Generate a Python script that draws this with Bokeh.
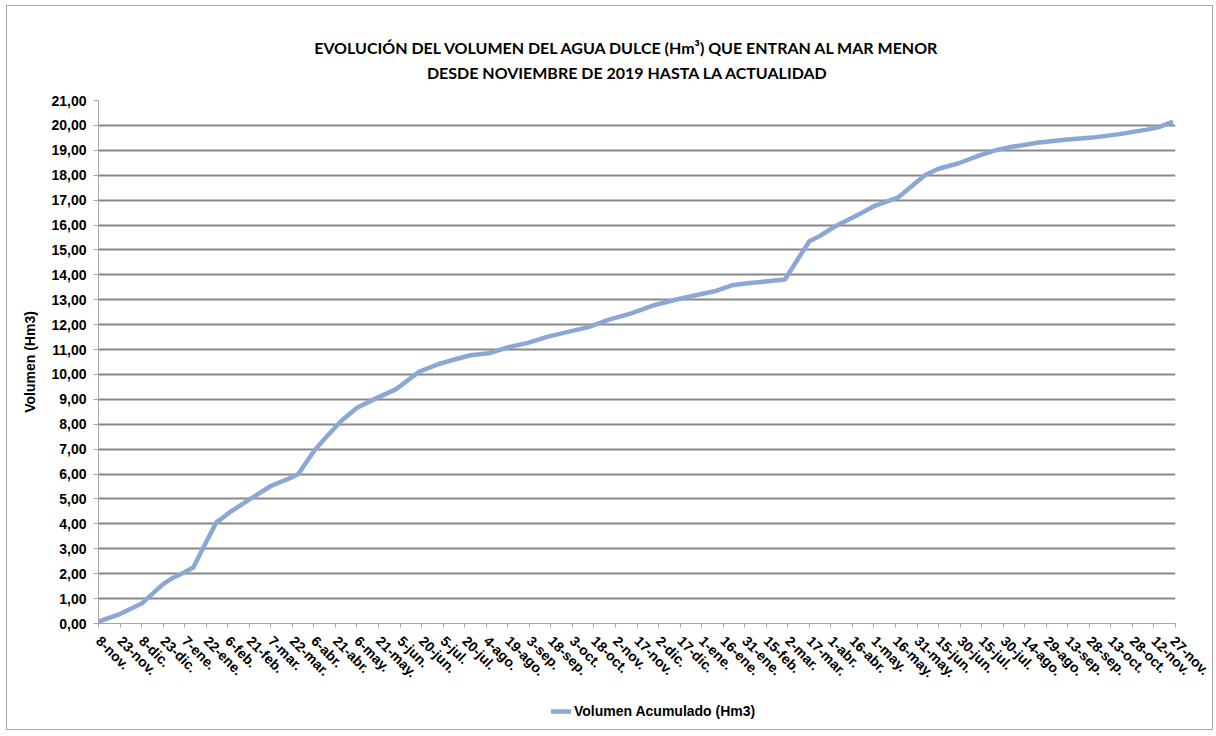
import pandas as pd
from bokeh.plotting import figure
from bokeh.layouts import column
from bokeh.models import Range1d, FixedTicker, Label, Legend, LegendItem, ColumnDataSource
from bokeh.embed import file_html
from bokeh.resources import INLINE

# ---------------- data ----------------
title_line1 = "EVOLUCIÓN DEL VOLUMEN DEL AGUA DULCE (Hm³) QUE ENTRAN AL MAR MENOR"
title_line2 = "DESDE NOVIEMBRE DE 2019 HASTA LA ACTUALIDAD"
y_title = "Volumen (Hm3)"
series_name = "Volumen Acumulado (Hm3)"

tick_dates = [
    "2019-11-08", "2019-11-23", "2019-12-08", "2019-12-23", "2020-01-07", "2020-01-22",
    "2020-02-06", "2020-02-21", "2020-03-07", "2020-03-22", "2020-04-06", "2020-04-21",
    "2020-05-06", "2020-05-21", "2020-06-05", "2020-06-20", "2020-07-05", "2020-07-20",
    "2020-08-04", "2020-08-19", "2020-09-03", "2020-09-18", "2020-10-03", "2020-10-18",
    "2020-11-02", "2020-11-17", "2020-12-02", "2020-12-17", "2021-01-01", "2021-01-16",
    "2021-01-31", "2021-02-15", "2021-03-02", "2021-03-17", "2021-04-01", "2021-04-16",
    "2021-05-01", "2021-05-16", "2021-05-31", "2021-06-15", "2021-06-30", "2021-07-15",
    "2021-07-30", "2021-08-14", "2021-08-29", "2021-09-13", "2021-09-28", "2021-10-13",
    "2021-10-28", "2021-11-12", "2021-11-27",
]
tick_labels = [
    "8-nov.", "23-nov.", "8-dic.", "23-dic.", "7-ene.", "22-ene.",
    "6-feb.", "21-feb.", "7-mar.", "22-mar.", "6-abr.", "21-abr.",
    "6-may.", "21-may.", "5-jun.", "20-jun.", "5-jul.", "20-jul.",
    "4-ago.", "19-ago.", "3-sep.", "18-sep.", "3-oct.", "18-oct.",
    "2-nov.", "17-nov.", "2-dic.", "17-dic.", "1-ene.", "16-ene.",
    "31-ene.", "15-feb.", "2-mar.", "17-mar.", "1-abr.", "16-abr.",
    "1-may.", "16-may.", "31-may.", "15-jun.", "30-jun.", "15-jul.",
    "30-jul.", "14-ago.", "29-ago.", "13-sep.", "28-sep.", "13-oct.",
    "28-oct.", "12-nov.", "27-nov.",
]
y_ticks = [0, 1, 2, 3, 4, 5, 6, 7, 8, 9, 10, 11, 12, 13, 14, 15, 16, 17, 18, 19, 20, 21]
y_tick_labels = [
    "0,00", "1,00", "2,00", "3,00", "4,00", "5,00", "6,00", "7,00", "8,00", "9,00", "10,00",
    "11,00", "12,00", "13,00", "14,00", "15,00", "16,00", "17,00", "18,00", "19,00", "20,00", "21,00",
]

dates = [
    "2019-11-08", "2019-11-23", "2019-12-08", "2019-12-23", "2019-12-30", "2020-01-07",
    "2020-01-13", "2020-01-20", "2020-01-29", "2020-02-07", "2020-02-22", "2020-03-07",
    "2020-03-22", "2020-03-26", "2020-04-06", "2020-04-13", "2020-04-25", "2020-05-06",
    "2020-05-20", "2020-06-02", "2020-06-18", "2020-07-02", "2020-07-13", "2020-07-24",
    "2020-08-06", "2020-08-19", "2020-09-02", "2020-09-16", "2020-09-30", "2020-10-14",
    "2020-10-28", "2020-11-13", "2020-11-29", "2020-12-13", "2020-12-27", "2021-01-10",
    "2021-01-22", "2021-02-02", "2021-02-16", "2021-02-28", "2021-03-17", "2021-03-24",
    "2021-04-04", "2021-04-18", "2021-05-02", "2021-05-18", "2021-05-27", "2021-06-06",
    "2021-06-15", "2021-06-29", "2021-07-13", "2021-07-24", "2021-08-05", "2021-08-24",
    "2021-09-11", "2021-09-30", "2021-10-19", "2021-11-06", "2021-11-15", "2021-11-24",
]
volumes = [
    0.08, 0.38, 0.80, 1.58, 1.84, 2.06,
    2.25, 3.05, 4.05, 4.45, 5.01, 5.52,
    5.88, 5.99, 6.92, 7.39, 8.13, 8.66,
    9.06, 9.40, 10.10, 10.42, 10.60, 10.77,
    10.85, 11.09, 11.27, 11.52, 11.71, 11.90,
    12.19, 12.45, 12.78, 12.99, 13.17, 13.34,
    13.58, 13.66, 13.74, 13.81, 15.35, 15.55,
    15.95, 16.35, 16.78, 17.11, 17.55, 18.02,
    18.26, 18.48, 18.79, 18.99, 19.14, 19.31,
    19.42, 19.51, 19.65, 19.82, 19.92, 20.12,
]

# ---------------- build ----------------
origin = pd.Timestamp(tick_dates[0])
tick_days = [(pd.Timestamp(d) - origin).days for d in tick_dates]
data_days = [(pd.Timestamp(d) - origin).days for d in dates]
src = ColumnDataSource(dict(x=data_days, y=volumes))

AX_FONT = "Liberation Sans"
TITLE_FONT = "Lato"
FS = "14px"
LINE_COLOR = "#8ba7d6"
FULL_W = 1205

# header strip with the two title lines (coordinates in pixels)
HDR_H = 84
hdr = figure(
    width=FULL_W, height=HDR_H, output_backend="svg", toolbar_location=None,
    x_axis_location=None, y_axis_location=None,
    x_range=Range1d(0, FULL_W), y_range=Range1d(0, HDR_H),
    min_border=0, background_fill_color="white", border_fill_color="white",
)
hdr.grid.visible = False
hdr.outline_line_color = None
for txt, yy in ((title_line1, 43), (title_line2, 18)):
    hdr.add_layout(Label(x=592, y=yy, text=txt, text_align="center", text_baseline="middle",
                         text_font=TITLE_FONT, text_font_size="16px", text_font_style="bold",
                         text_color="black"))

p = figure(
    frame_width=1077, frame_height=523,
    output_backend="svg", toolbar_location=None, title=None,
    x_range=Range1d(min(tick_days), max(tick_days)),
    y_range=Range1d(min(y_ticks), max(y_ticks)),
    min_border_left=91, min_border_right=37, min_border_top=10, min_border_bottom=75,
    background_fill_color="white", border_fill_color="white",
)
p.outline_line_color = None

# grid
p.xgrid.visible = False
p.ygrid.ticker = FixedTicker(ticks=y_ticks)
p.ygrid.grid_line_color = "#888888"
p.ygrid.grid_line_width = 2

# y axis
p.yaxis.ticker = FixedTicker(ticks=y_ticks)
p.yaxis.major_label_overrides = {t: lab for t, lab in zip(y_ticks, y_tick_labels)}
p.yaxis.axis_label = y_title
p.yaxis.axis_label_text_font = AX_FONT
p.yaxis.axis_label_text_font_size = FS
p.yaxis.axis_label_text_font_style = "bold"
p.yaxis.axis_label_text_color = "black"
p.yaxis.axis_label_standoff = 10
p.yaxis.major_label_text_font = AX_FONT
p.yaxis.major_label_text_font_size = FS
p.yaxis.major_label_text_font_style = "bold"
p.yaxis.major_label_text_color = "black"
p.yaxis.major_label_standoff = 7
p.yaxis.axis_line_color = "#a6a6a6"
p.yaxis.major_tick_line_color = "#a6a6a6"
p.yaxis.major_tick_out = 5
p.yaxis.major_tick_in = 0
p.yaxis.minor_tick_line_color = None

# x axis
p.xaxis.ticker = FixedTicker(ticks=tick_days)
p.xaxis.major_label_overrides = {t: lab for t, lab in zip(tick_days, tick_labels)}
p.xaxis.major_label_orientation = -0.7853981634
p.xaxis.major_label_text_font = AX_FONT
p.xaxis.major_label_text_font_size = FS
p.xaxis.major_label_text_font_style = "bold"
p.xaxis.major_label_text_color = "black"
p.xaxis.major_label_standoff = 11
p.xaxis.axis_line_color = "#a6a6a6"
p.xaxis.major_tick_line_color = "#a6a6a6"
p.xaxis.major_tick_out = 4
p.xaxis.major_tick_in = 0
p.xaxis.minor_tick_line_color = None

p.line("x", "y", source=src, line_color=LINE_COLOR, line_width=4.5,
       line_join="round", line_cap="round")

# legend strip below the chart (series drawn out of view, only its legend shows)
pleg = figure(
    width=FULL_W, height=31, output_backend="svg", toolbar_location=None,
    x_axis_location=None, y_axis_location=None,
    x_range=Range1d(-2, -1), y_range=Range1d(-2, -1),
    min_border=0, background_fill_color="white", border_fill_color="white",
)
pleg.grid.visible = False
pleg.outline_line_color = None
rleg = pleg.line("x", "y", source=src, line_color=LINE_COLOR, line_width=4.5, line_cap="round")
legend = Legend(items=[LegendItem(label=series_name, renderers=[rleg])],
                location=(453, 8), orientation="horizontal")
legend.label_text_font = AX_FONT
legend.label_text_font_size = FS
legend.label_text_font_style = "bold"
legend.label_text_color = "black"
legend.glyph_width = 20
legend.label_standoff = 3
legend.border_line_color = None
legend.background_fill_alpha = 0
legend.padding = 4
legend.margin = 0
pleg.add_layout(legend, "center")

layout = column(hdr, p, pleg, spacing=0,
                styles={"border": "1px solid #a6a6a6", "margin-left": "6px", "margin-top": "5px"})

open("out.html", "w").write(file_html(layout, INLINE))
